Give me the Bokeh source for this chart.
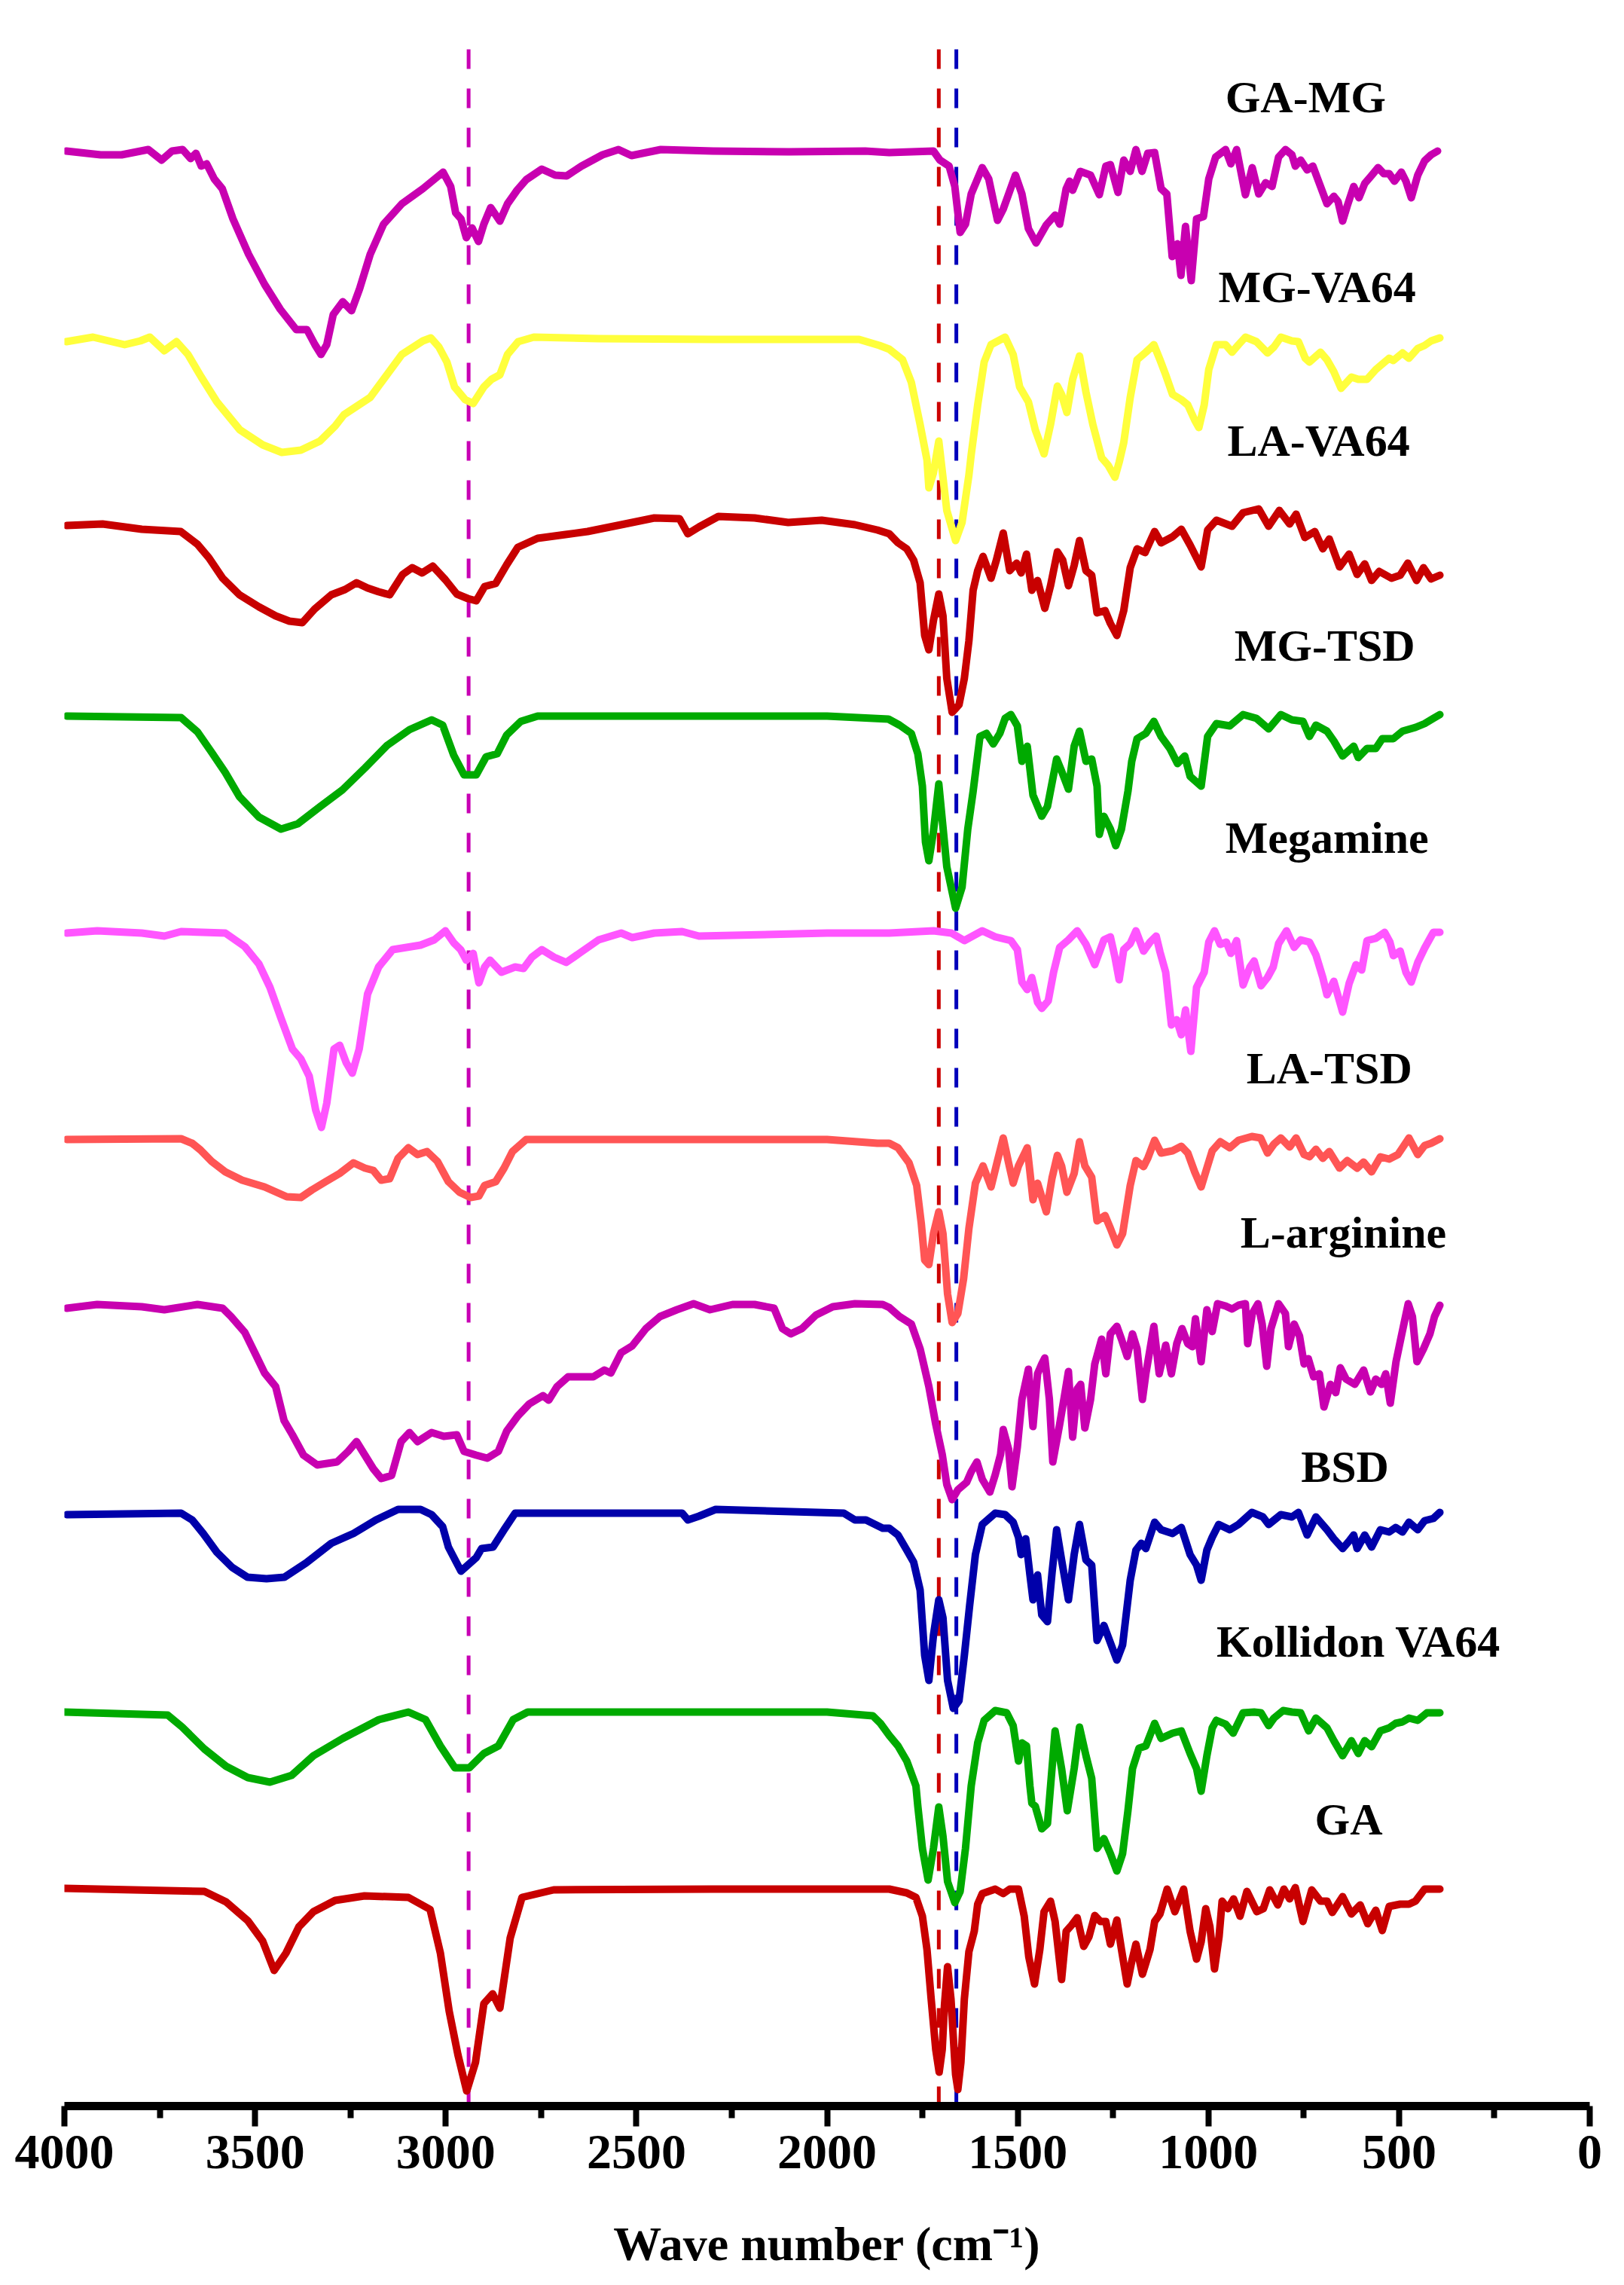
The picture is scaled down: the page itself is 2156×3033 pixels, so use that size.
from bokeh.plotting import figure
from bokeh.models import Range1d, FixedTicker, ColumnDataSource
from bokeh.core.properties import value
from bokeh.embed import file_html
from bokeh.resources import INLINE

# ---------------- data: (wavenumber cm-1, relative transmittance a.u.) ----------------
ga_mg = [(3995,0),(3905,-5),(3850,-5),(3780,2),(3745,-12),(3718,0),(3690,2),(3669,-10),(3655,-3),(3641,-20),
 (3627,-17),(3607,-37),(3586,-50),(3558,-90),(3517,-137),(3475,-177),(3434,-210),(3392,-237),(3364,-237),
 (3343,-257),(3327,-270),(3312,-257),(3295,-217),(3270,-200),(3247,-212),(3226,-183),(3198,-137),(3163,-97),
 (3115,-70),(3060,-50),(3007,-28),(2987,-47),(2974,-82),(2960,-90),(2946,-115),(2931,-102),(2914,-120),
 (2900,-97),(2882,-75),(2858,-93),(2838,-70),(2813,-52),(2789,-38),(2748,-24),(2713,-32),(2683,-33),
 (2644,-20),(2589,-5),(2547,2),(2513,-6),(2436,2),(2300,0),(2100,-1),(1900,0),(1837,-2),(1721,0),
 (1704,-12),(1680,-20),(1665,-47),(1651,-108),(1637,-97),(1622,-57),(1593,-22),(1576,-37),(1553,-92),
 (1538,-77),(1506,-32),(1489,-57),(1472,-103),(1452,-122),(1425,-98),(1402,-85),(1390,-97),(1373,-50),
 (1364,-40),(1356,-52),(1336,-27),(1309,-32),(1286,-58),(1269,-20),(1257,-18),(1237,-55),(1222,-12),
 (1205,-27),(1190,2),(1174,-27),(1159,-3),(1141,-2),(1124,-50),(1109,-57),(1095,-140),(1081,-123),
 (1072,-165),(1060,-100),(1045,-172),(1031,-90),(1013,-87),(999,-37),(981,-8),(955,2),(941,-17),(926,2),
 (903,-58),(885,-22),(868,-57),(850,-42),(833,-47),(816,-8),(798,2),(781,-5),(772,-20),(758,-12),(741,-25),
 (726,-20),(706,-47),(689,-70),(671,-60),(660,-67),(648,-93),(636,-73),(619,-47),(605,-62),(590,-43),
 (573,-33),(555,-22),(540,-30),(526,-30),(512,-40),(494,-28),(482,-40),(468,-62),(451,-32),(433,-13),
 (416,-5),(399,0)]

mg_va64 = [(3995,-3),(3925,3),(3842,-7),(3801,-2),(3776,3),(3738,-15),(3706,-3),(3676,-20),(3641,-50),
 (3600,-83),(3540,-120),(3480,-140),(3430,-150),(3380,-147),(3330,-135),(3290,-115),(3267,-100),
 (3198,-77),(3115,-20),(3060,-2),(3039,2),(3018,-10),(2997,-30),(2977,-63),(2949,-80),(2928,-85),
 (2900,-63),(2880,-53),(2858,-47),(2838,-20),(2810,-3),(2769,3),(2600,1),(2300,0),(2000,0),(1916,0),
 (1863,-8),(1837,-13),(1802,-27),(1779,-57),(1756,-113),(1738,-160),(1733,-197),(1721,-177),(1707,-135),
 (1686,-227),(1663,-267),(1646,-243),(1628,-180),(1622,-153),(1605,-87),(1588,-30),(1570,-7),(1533,3),
 (1512,-20),(1495,-63),(1472,-83),(1454,-120),(1431,-152),(1414,-113),(1396,-62),(1385,-73),(1371,-97),
 (1356,-53),(1338,-22),(1321,-70),(1303,-113),(1280,-157),(1263,-167),(1245,-183),(1234,-163),
 (1222,-137),(1205,-77),(1187,-27),(1164,-17),(1143,-7),(1127,-27),(1112,-47),(1094,-73),(1071,-80),
 (1054,-87),(1036,-107),(1025,-117),(1011,-87),(999,-40),(979,-7),(955,-7),(938,-17),(921,-7),(903,3),
 (874,-3),(845,-18),(828,-10),(810,3),(781,-2),(764,-3),(746,-25),(735,-30),(706,-17),(689,-27),(671,-43),
 (652,-65),(625,-50),(607,-53),(584,-53),(561,-40),(526,-25),(515,-28),(491,-18),(474,-25),(451,-12),
 (433,-8),(416,-2),(393,2)]

la_va64 = [(3994,-7),(3900,-5),(3797,-12),(3695,-15),(3651,-32),(3621,-50),(3585,-77),(3541,-99),
 (3490,-115),(3446,-127),(3410,-134),(3376,-136),(3344,-118),(3300,-99),(3264,-92),(3234,-83),(3205,-90),
 (3176,-95),(3147,-99),(3113,-72),(3088,-63),(3062,-70),(3034,-61),(3001,-79),(2971,-98),(2942,-104),
 (2920,-107),(2898,-88),(2869,-84),(2840,-59),(2811,-36),(2759,-24),(2686,-19),(2628,-15),(2540,-6),
 (2453,3),(2387,2),(2365,-18),(2336,-9),(2285,5),(2190,3),(2102,-3),(2014,0),(1927,-6),(1868,-13),
 (1837,-18),(1814,-30),(1791,-38),(1773,-53),(1756,-83),(1744,-153),(1733,-172),(1721,-133),(1707,-98),
 (1696,-127),(1686,-210),(1672,-255),(1654,-245),(1640,-210),(1628,-160),(1617,-93),(1605,-67),
 (1591,-48),(1570,-77),(1556,-53),(1538,-17),(1521,-67),(1503,-57),(1491,-70),(1477,-45),(1463,-93),
 (1448,-80),(1429,-117),(1414,-87),(1396,-42),(1382,-53),(1367,-87),(1352,-60),(1338,-27),(1321,-67),
 (1306,-73),(1292,-123),(1271,-120),(1257,-137),(1240,-153),(1222,-120),(1205,-63),(1187,-38),
 (1166,-43),(1141,-15),(1124,-30),(1094,-22),(1071,-12),(1048,-33),(1019,-62),(1002,-13),(979,0),
 (938,-8),(909,10),(868,15),(842,-8),(814,13),(787,-5),(770,8),(747,-23),(721,-15),(700,-38),(683,-25),
 (656,-62),(631,-45),(610,-72),(590,-58),(572,-80),(552,-68),(520,-77),(497,-73),(477,-57),(454,-80),
 (436,-63),(416,-78),(393,-73)]

mg_tsd = [(3994,0),(3694,-2),(3651,-21),(3614,-48),(3578,-75),(3541,-107),(3490,-134),(3432,-150),
 (3388,-143),(3329,-120),(3271,-98),(3212,-69),(3154,-39),(3095,-18),(3037,-5),(3008,-12),(2979,-52),
 (2952,-78),(2920,-78),(2894,-54),(2865,-50),(2840,-25),(2803,-7),(2759,0),(2400,0),(2000,0),(1839,-4),
 (1810,-12),(1779,-23),(1762,-50),(1750,-93),(1742,-167),(1733,-192),(1721,-153),(1707,-90),(1686,-200),
 (1663,-255),(1646,-227),(1631,-150),(1617,-100),(1599,-27),(1582,-23),(1564,-37),(1547,-23),(1533,-3),
 (1518,2),(1501,-13),(1489,-60),(1475,-40),(1460,-105),(1437,-133),(1422,-120),(1398,-57),(1385,-73),
 (1367,-97),(1352,-40),(1338,-20),(1321,-60),(1306,-57),(1292,-93),(1286,-157),(1274,-133),(1257,-150),
 (1243,-172),(1228,-150),(1211,-100),(1201,-60),(1187,-30),(1164,-23),(1143,-7),(1124,-27),(1101,-43),
 (1081,-63),(1062,-53),(1048,-80),(1019,-93),(1002,-27),(979,-10),(944,-13),(909,2),(874,-3),(842,-17),
 (810,2),(781,-5),(752,-7),(735,-27),(718,-12),(689,-20),(671,-33),(648,-53),(619,-40),(607,-55),
 (584,-43),(561,-43),(544,-30),(515,-30),(491,-20),(457,-15),(433,-10),(410,-3),(393,2)]

megamine = [(3994,0),(3914,3),(3797,0),(3738,-4),(3694,2),(3578,0),(3527,-18),(3490,-41),(3461,-72),
 (3432,-113),(3402,-154),(3380,-167),(3358,-190),(3341,-235),(3326,-258),(3312,-226),(3293,-154),
 (3278,-149),(3261,-172),(3245,-186),(3227,-154),(3205,-81),(3176,-45),(3139,-22),(3066,-16),(3030,-9),
 (3001,3),(2979,-13),(2961,-22),(2946,-36),(2928,-27),(2913,-66),(2898,-45),(2884,-36),(2854,-52),
 (2818,-45),(2796,-47),(2774,-32),(2748,-22),(2716,-32),(2684,-39),(2650,-27),(2599,-9),(2540,0),
 (2511,-6),(2453,0),(2380,2),(2336,-4),(2000,0),(1837,0),(1721,3),(1674,0),(1640,-10),(1593,3),
 (1559,-5),(1518,-10),(1501,-22),(1489,-65),(1475,-75),(1463,-59),(1448,-92),(1437,-100),(1420,-90),
 (1406,-52),(1390,-19),(1367,-9),(1344,3),(1321,-15),(1298,-42),(1274,-9),(1257,-5),(1245,-32),
 (1234,-62),(1222,-22),(1205,-14),(1190,3),(1170,-24),(1153,-12),(1137,-4),(1127,-25),(1112,-52),
 (1097,-122),(1083,-115),(1071,-135),(1060,-102),(1046,-157),(1031,-72),(1011,-52),(999,-12),(984,3),
 (969,-15),(953,-12),(941,-27),(926,-10),(909,-69),(891,-45),(880,-37),(862,-70),(845,-59),(830,-45),
 (816,-14),(795,3),(775,-19),(758,-9),(735,-12),(718,-29),(700,-59),(689,-82),(671,-64),(648,-105),
 (631,-67),(613,-42),(598,-49),(584,-10),(561,-7),(538,1),(524,-12),(515,-30),(497,-24),(482,-52),
 (468,-65),(451,-39),(433,-20),(410,1),(393,1)]

la_tsd = [(3994,0),(3694,1),(3665,-5),(3643,-14),(3614,-29),(3578,-43),(3534,-54),(3475,-63),(3417,-76),
 (3380,-77),(3351,-67),(3315,-56),(3278,-45),(3242,-31),(3212,-38),(3190,-41),(3169,-54),(3147,-52),
 (3125,-25),(3098,-11),(3074,-20),(3049,-16),(3022,-29),(2993,-56),(2964,-70),(2935,-77),(2913,-75),
 (2898,-61),(2869,-56),(2847,-38),(2825,-16),(2789,0),(2400,0),(2000,0),(1868,-5),(1837,-5),(1814,-11),
 (1785,-31),(1765,-61),(1753,-111),(1744,-160),(1733,-166),(1721,-125),(1707,-96),(1696,-125),
 (1684,-205),(1672,-243),(1657,-231),(1642,-185),(1628,-118),(1611,-58),(1591,-35),(1570,-63),
 (1553,-28),(1538,2),(1524,-31),(1512,-58),(1498,-35),(1475,-11),(1460,-80),(1448,-58),(1425,-96),
 (1410,-51),(1396,-21),(1385,-35),(1371,-70),(1352,-45),(1338,-3),(1324,-35),(1306,-50),(1292,-108),
 (1271,-101),(1257,-118),(1240,-140),(1225,-125),(1205,-61),(1190,-28),(1170,-36),(1159,-25),(1141,-1),
 (1124,-18),(1094,-15),(1071,-9),(1054,-18),(1036,-43),(1019,-63),(1004,-38),(990,-15),(969,-3),
 (944,-11),(921,-1),(886,4),(863,2),(845,-18),(828,-6),(810,2),(787,-10),(770,2),(749,-20),(735,-23),
 (718,-13),(700,-25),(683,-16),(656,-38),(636,-28),(610,-38),(593,-30),(572,-43),(549,-23),(526,-26),
 (503,-20),(491,-11),(474,2),(451,-20),(433,-8),(416,-5),(393,1)]

l_arginine = [(3994,-2),(3914,3),(3797,0),(3738,-4),(3651,3),(3585,-2),(3563,-13),(3527,-34),(3497,-65),
 (3475,-88),(3446,-106),(3424,-151),(3402,-170),(3373,-197),(3337,-210),(3285,-206),(3256,-192),
 (3234,-179),(3212,-197),(3190,-215),(3169,-228),(3142,-224),(3117,-179),(3095,-167),(3074,-179),
 (3037,-167),(3005,-172),(2971,-170),(2952,-192),(2920,-197),(2891,-201),(2862,-192),(2840,-165),
 (2811,-145),(2781,-129),(2745,-118),(2730,-124),(2708,-106),(2679,-93),(2650,-93),(2613,-93),
 (2584,-84),(2567,-88),(2540,-61),(2511,-52),(2475,-29),(2438,-13),(2394,-4),(2350,4),(2307,-4),
 (2248,3),(2190,3),(2139,-2),(2117,-29),(2095,-36),(2066,-29),(2029,-11),(1985,0),(1927,4),(1854,3),
 (1837,-1),(1810,-13),(1779,-23),(1756,-56),(1733,-106),(1715,-156),(1698,-196),(1686,-236),(1672,-256),
 (1657,-243),(1634,-233),(1622,-219),(1607,-206),(1593,-229),(1573,-246),(1559,-223),(1545,-196),
 (1538,-163),(1524,-189),(1515,-239),(1501,-186),(1489,-123),(1472,-83),(1460,-159),(1448,-89),
 (1437,-76),(1429,-68),(1417,-123),(1408,-206),(1390,-156),(1379,-123),(1367,-86),(1356,-173),
 (1344,-109),(1335,-103),(1324,-161),(1309,-123),(1298,-76),(1280,-43),(1269,-89),(1257,-36),
 (1240,-26),(1228,-43),(1213,-66),(1199,-36),(1187,-56),(1173,-123),(1164,-89),(1143,-26),(1129,-89),
 (1112,-51),(1097,-89),(1083,-49),(1069,-29),(1054,-49),(1042,-53),(1034,-16),(1019,-73),(1004,-4),
 (990,-33),(976,4),(955,1),(938,-3),(921,2),(903,4),(897,-49),(885,-9),(870,4),(859,-23),(847,-79),
 (836,-29),(816,4),(798,-9),(790,-53),(775,-23),(761,-39),(749,-76),(738,-69),(724,-93),(709,-89),
 (697,-133),(680,-103),(666,-114),(654,-81),(639,-96),(616,-103),(593,-84),(575,-113),(561,-96),
 (546,-103),(535,-89),(523,-128),(508,-73),(494,-39),(476,4),(465,-13),(453,-73),(436,-56),(419,-36),
 (407,-13),(393,2)]

bsd = [(3994,-2),(3694,0),(3665,-9),(3636,-27),(3600,-52),(3560,-72),(3520,-85),(3470,-87),(3423,-85),
 (3366,-66),(3300,-40),(3242,-27),(3183,-9),(3125,5),(3066,5),(3037,-2),(3008,-18),(2993,-45),(2960,-77),
 (2920,-59),(2906,-47),(2876,-45),(2847,-22),(2818,0),(2380,0),(2365,-9),(2336,-4),(2292,5),(1956,0),
 (1927,-9),(1898,-9),(1854,-20),(1837,-20),(1814,-29),(1791,-49),(1773,-65),(1756,-102),(1744,-189),
 (1733,-222),(1721,-162),(1707,-115),(1696,-139),(1684,-222),(1669,-259),(1654,-249),(1640,-189),
 (1626,-122),(1611,-55),(1593,-15),(1559,0),(1533,-2),(1512,-12),(1498,-32),(1491,-55),(1479,-34),
 (1468,-82),(1460,-115),(1448,-82),(1437,-135),(1422,-144),(1410,-79),(1398,-22),(1385,-62),
 (1367,-115),(1352,-55),(1338,-15),(1321,-62),(1306,-69),(1292,-169),(1274,-149),(1257,-172),
 (1240,-195),(1225,-175),(1205,-89),(1190,-49),(1176,-40),(1164,-47),(1141,-12),(1124,-22),(1094,-27),
 (1071,-19),(1048,-55),(1031,-69),(1019,-89),(1004,-49),(990,-32),(973,-15),(944,-22),(921,-15),
 (886,1),(857,-5),(842,-15),(810,-2),(781,-5),(764,1),(741,-29),(718,-5),(689,-22),(671,-34),(648,-47),
 (631,-37),(619,-29),(610,-47),(590,-29),(572,-45),(549,-22),(526,-25),(509,-19),(491,-25),(474,-12),
 (451,-22),(433,-10),(410,-7),(393,1)]

kollidon_va64 = [(4000,0),(3729,-4),(3691,-20),(3633,-49),(3576,-72),(3519,-87),(3461,-93),(3404,-84),
 (3347,-58),(3270,-35),(3175,-10),(3098,0),(3053,-10),(3014,-45),(2976,-74),(2938,-74),(2900,-55),
 (2862,-45),(2823,-10),(2785,0),(2400,0),(2000,0),(1880,-5),(1860,-15),(1837,-31),(1814,-45),(1791,-65),
 (1767,-98),(1762,-125),(1750,-181),(1735,-223),(1721,-181),(1707,-126),(1696,-165),(1684,-225),
 (1665,-253),(1651,-238),(1637,-181),(1622,-98),(1605,-41),(1588,-11),(1559,2),(1529,-1),(1512,-18),
 (1498,-65),(1489,-41),(1477,-45),(1468,-98),(1463,-121),(1454,-125),(1437,-155),(1422,-148),
 (1402,-25),(1385,-75),(1370,-131),(1352,-75),(1338,-20),(1321,-58),(1306,-88),(1292,-181),(1274,-168),
 (1257,-188),(1240,-211),(1225,-188),(1211,-131),(1199,-75),(1182,-48),(1164,-45),(1141,-15),
 (1124,-35),(1094,-28),(1071,-25),(1048,-55),(1031,-75),(1019,-105),(1004,-58),(990,-21),(979,-11),
 (955,-16),(935,-28),(909,-1),(880,0),(862,-1),(842,-18),(828,-8),(804,2),(781,0),(758,-1),(737,-25),
 (718,-8),(689,-21),(671,-38),(648,-58),(625,-38),(607,-55),(590,-38),(572,-46),(549,-25),(526,-21),
 (509,-15),(491,-13),(474,-8),(451,-11),(427,-1),(393,-1)]

ga = [(4000,1),(3633,-3),(3576,-17),(3519,-42),(3480,-69),(3450,-108),(3419,-85),(3385,-50),(3347,-30),
 (3290,-15),(3213,-9),(3098,-11),(3041,-27),(3014,-85),(2991,-162),(2968,-220),(2945,-268),(2922,-230),
 (2900,-152),(2877,-139),(2858,-158),(2831,-65),(2800,-11),(2717,-1),(2300,0),(2000,0),(1837,0),
 (1791,-5),(1767,-11),(1750,-36),(1738,-80),(1727,-146),(1715,-213),(1706,-243),(1698,-213),(1692,-153),
 (1684,-103),(1675,-146),(1663,-246),(1657,-266),(1649,-230),(1640,-146),(1628,-83),(1614,-56),
 (1605,-20),(1593,-6),(1559,0),(1538,-6),(1521,0),(1498,0),(1483,-36),(1471,-90),(1456,-126),(1442,-80),
 (1431,-30),(1414,-16),(1402,-43),(1385,-120),(1373,-56),(1359,-48),(1344,-38),(1327,-76),(1313,-63),
 (1298,-35),(1283,-43),(1269,-43),(1257,-73),(1240,-41),(1228,-80),(1213,-126),(1201,-96),(1190,-73),
 (1173,-113),(1153,-80),(1141,-43),(1127,-33),(1108,0),(1088,-30),(1065,0),(1048,-56),(1031,-93),
 (1019,-70),(1007,-26),(996,-50),(984,-106),(972,-63),(964,-16),(949,-26),(934,-13),(917,-36),(899,-3),
 (873,-30),(856,-26),(839,-1),(818,-21),(802,0),(787,-13),(772,2),(752,-43),(729,-1),(706,-16),
 (689,-16),(675,-31),(648,-10),(625,-33),(602,-21),(582,-46),(561,-28),(544,-55),(526,-23),(497,-20),
 (474,-20),(457,-16),(433,0),(393,0)]

series_names = ["GA-MG", "MG-VA64", "LA-VA64", "MG-TSD", "Megamine",
                "LA-TSD", "L-arginine", "BSD", "Kollidon VA64", "GA"]
series_data = [ga_mg, mg_va64, la_va64, mg_tsd, megamine,
               la_tsd, l_arginine, bsd, kollidon_va64, ga]
series_offsets = [2595, 2345, 2105, 1845, 1557, 1283, 1061, 787, 523, 288]
series_colors = ["#C800B0", "#FFFF3C", "#C80000", "#00AA00", "#FF55FF",
                 "#FF5555", "#C800B0", "#0000AA", "#00AA00", "#C80000"]

label_wn = [745, 715, 711, 695, 689, 683, 646, 642, 606, 632]
label_y = [2667, 2415, 2211, 1939, 1684, 1378, 1160, 849, 617, 381]

marker_wn = [2940, 1707, 1661]
marker_colors = ["#C800B4", "#CC0000", "#0000BB"]
marker_top = 2735

x_ticks = [4000, 3500, 3000, 2500, 2000, 1500, 1000, 500, 0]
x_minor = [3750, 3250, 2750, 2250, 1750, 1250, 750, 250]

# ---------------- figure ----------------
p = figure(width=2148, height=3025, output_backend="svg", toolbar_location=None,
           x_range=Range1d(4000, 0), y_range=Range1d(0, 2775),
           y_axis_location=None, min_border_left=85, min_border_right=38,
           min_border_top=20, min_border_bottom=230)
p.outline_line_color = None
p.grid.visible = False
p.background_fill_color = "white"

for col, wn in zip(marker_colors, marker_wn):
    p.segment(x0=[wn], y0=[0], x1=[wn], y1=[marker_top], line_color=col,
              line_width=5, line_dash="26 26")

for name, data, off, col in zip(series_names, series_data, series_offsets, series_colors):
    pts = sorted(data, key=lambda t: -t[0])
    xs = [a for a, b in pts]
    ys = [off + b for a, b in pts]
    p.line(xs, ys, line_color=col, line_width=10, line_join="round", line_cap="round")

src = ColumnDataSource(dict(x=label_wn, y=label_y, t=series_names))
p.text(x="x", y="y", text="t", source=src, text_align="center", text_baseline="alphabetic",
       text_font=value("Liberation Serif"), text_font_style="bold", text_font_size="60px",
       text_color="black")

ax = p.xaxis[0]
ax.ticker = FixedTicker(ticks=x_ticks, minor_ticks=x_minor)
ax.axis_line_width = 11
ax.axis_line_color = "black"
ax.major_tick_line_width = 8
ax.minor_tick_line_width = 8
ax.major_tick_in = 0
ax.major_tick_out = 27
ax.minor_tick_in = 0
ax.minor_tick_out = 16
ax.major_label_text_font = "Liberation Serif"
ax.major_label_text_font_style = "bold"
ax.major_label_text_font_size = "66px"
ax.major_label_text_color = "black"
ax.major_label_standoff = 12
ax.axis_label = "Wave number (cm\u207b\u00b9)"
ax.axis_label_text_font = "Liberation Serif"
ax.axis_label_text_font_style = "bold"
ax.axis_label_text_font_size = "64px"
ax.axis_label_text_color = "black"
ax.axis_label_standoff = 62

open("out.html", "w").write(file_html(p, INLINE))
